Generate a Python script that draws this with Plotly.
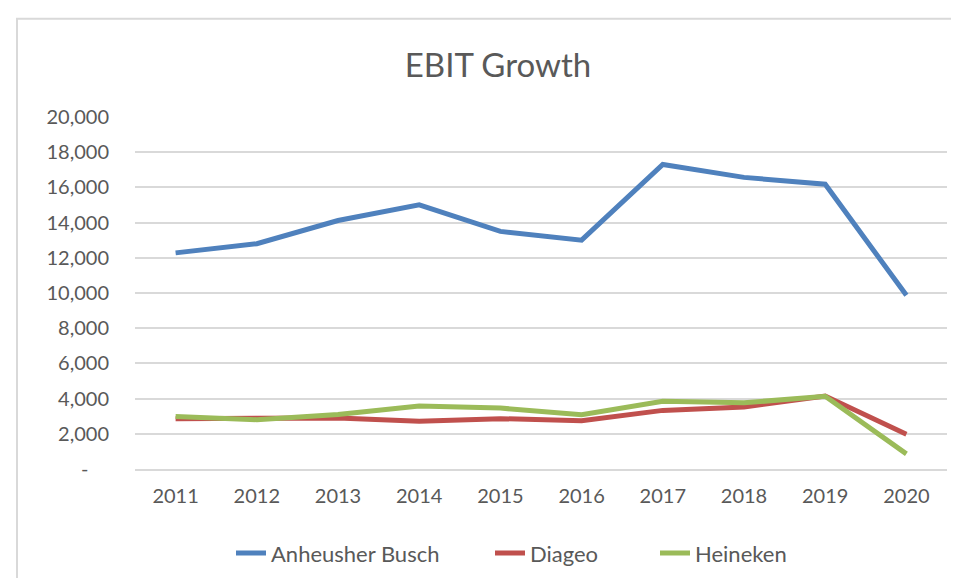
import plotly.graph_objects as go

years = ["2011", "2012", "2013", "2014", "2015", "2016", "2017", "2018", "2019", "2020"]
anheuser_busch = [12280, 12800, 14120, 15010, 13500, 13000, 17300, 16570, 16180, 9870]
diageo = [2860, 2900, 2900, 2720, 2860, 2740, 3330, 3520, 4150, 1980]
heineken = [2990, 2800, 3100, 3580, 3460, 3090, 3850, 3760, 4130, 860]

y_ticks = list(range(0, 20001, 2000))
y_ticktext = ["-\u00a0\u00a0\u00a0\u00a0" if v == 0 else f"{v:,}" for v in y_ticks]

series = [
    ("Anheusher Busch", anheuser_busch, "#4F81BD"),
    ("Diageo", diageo, "#C0504D"),
    ("Heineken", heineken, "#9BBB59"),
]
legend_ids = ["legend", "legend2", "legend3"]
legend_text_x = [263, 522, 687]  # pixel where each legend label starts

text_color = "#595959"
grid_color = "#D9D9D9"
FONT = "Lato, 'Open Sans', sans-serif"

L, R, T, B = 127, 20, 109, 114
W, H = 959, 578
pw = W - L - R
ph = H - T - B

fig = go.Figure()
for (name, vals, color), lid in zip(series, legend_ids):
    fig.add_trace(go.Scatter(
        x=years, y=vals, name=name, mode="lines", legend=lid,
        line=dict(color=color, width=5, shape="linear"),
    ))

legend_layouts = {}
for lid, tx in zip(legend_ids, legend_text_x):
    legend_layouts[lid] = dict(
        orientation="h", x=(tx - 40 - L) / pw, xanchor="left",
        y=(H - B - 549) / ph, yanchor="middle",
        font=dict(size=22, color=text_color, family=FONT),
        bgcolor="rgba(0,0,0,0)", borderwidth=0,
    )

fig.update_layout(
    width=W, height=H,
    margin=dict(l=L, r=R, t=T, b=B, pad=0),
    paper_bgcolor="white", plot_bgcolor="white",
    font=dict(family=FONT, color=text_color),
    title=dict(text="EBIT Growth", x=490 / W, xref="container", xanchor="center",
               y=1 - 57 / H, yref="container", yanchor="middle",
               font=dict(size=33, color=text_color, family=FONT)),
    showlegend=True,
    xaxis=dict(type="category", range=[-0.5, 9.5], showgrid=False,
               showline=True, linecolor=grid_color, linewidth=2,
               ticks="", tickfont=dict(size=20, color=text_color),
               ticklabelstandoff=8, fixedrange=True),
    yaxis=dict(range=[0, 20000], tickvals=y_ticks, ticktext=y_ticktext,
               showgrid=True, gridcolor=grid_color, gridwidth=2,
               zeroline=False, showline=False, ticks="",
               tickfont=dict(size=20, color=text_color),
               ticklabelstandoff=25, fixedrange=True),
    shapes=[dict(type="rect", xref="paper", yref="paper",
                 x0=(9 - L) / pw, x1=(W + 20 - L) / pw,
                 y0=(H - B - (H + 20)) / ph, y1=(H - B - 10) / ph,
                 line=dict(color=grid_color, width=2), fillcolor="rgba(0,0,0,0)",
                 layer="below")],
    **legend_layouts,
)

fig.write_html("out.html")
